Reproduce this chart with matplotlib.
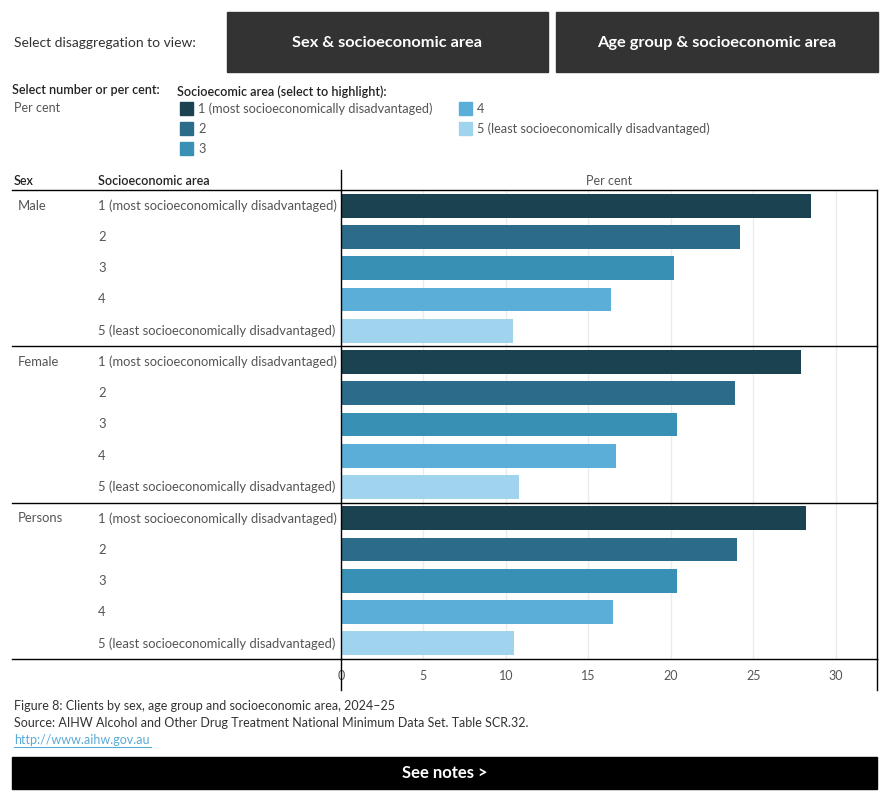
import matplotlib
matplotlib.use("Agg")
from matplotlib import pyplot as plt
from matplotlib.lines import Line2D
from matplotlib.patches import Rectangle
from matplotlib.transforms import blended_transform_factory

plt.rcParams['font.family'] = ['Lato', 'DejaVu Sans']

sexes = ["Male", "Female", "Persons"]
areas = ["1 (most socioeconomically disadvantaged)", "2", "3", "4",
         "5 (least socioeconomically disadvantaged)"]
male = [28.5, 24.2, 20.2, 16.4, 10.4]
female = [27.9, 23.9, 20.4, 16.7, 10.8]
persons = [28.2, 24.0, 20.4, 16.5, 10.5]
area_colors = ["#1a4250", "#2d6b8a", "#3891b4", "#5baed8", "#a0d4ee"]
x_ticks = [0, 5, 10, 15, 20, 25, 30]

W, H = 890, 800


def fx(px):
    return px / W


def fy(py):
    return 1 - py / H


def main():
    fig = plt.figure(figsize=(8.9, 8), dpi=100)
    grey = "#555555"
    dark = "#333333"

    # top buttons
    fig.text(fx(14), fy(43), "Select disaggregation to view:", fontsize=10,
             color=dark, va="center")
    for x0, x1, label in [(227, 548, "Sex & socioeconomic area"),
                          (556, 878, "Age group & socioeconomic area")]:
        fig.add_artist(Rectangle((fx(x0), fy(72)), fx(x1) - fx(x0), fy(12) - fy(72),
                                 transform=fig.transFigure, color="#333333"))
        fig.text(fx((x0 + x1) / 2), fy(43), label, fontsize=11.8, fontweight="bold",
                 color="white", ha="center", va="center")

    # selectors and legend
    fig.text(fx(12), fy(90), "Select number or per cent:", fontsize=9,
             fontweight=600, color="#222222", va="center")
    fig.text(fx(14), fy(108), "Per cent", fontsize=9, color=grey, va="center")
    fig.text(fx(177), fy(92), "Socioecomic area (select to highlight):", fontsize=9,
             fontweight=600, color="#222222", va="center")
    legend_pos = [(180, 109), (180, 129), (180, 149), (459, 109), (459, 129)]
    for (lx, ly), lab, c in zip(legend_pos, areas, area_colors):
        fig.add_artist(Rectangle((fx(lx), fy(ly + 6)), fx(13), 13 / H,
                                 transform=fig.transFigure, color=c))
        fig.text(fx(lx + 18), fy(ly), lab, fontsize=9.2, color=grey, va="center")

    # bar area
    ax = fig.add_axes([fx(341), fy(659), fx(877) - fx(341), fy(190) - fy(659)])
    values = male + female + persons
    colors = area_colors * 3
    ypos = [i + 0.5 for i in range(len(values))]
    ax.barh(ypos, values, height=0.76, color=colors, zorder=2)
    ax.set_ylim(len(values), 0)
    ax.set_xlim(0, 32.5)
    ax.set_xticks(x_ticks)
    ax.tick_params(axis="x", length=0, labelsize=9, labelcolor=grey, pad=8)
    ax.set_yticks([])
    ax.grid(axis="x", color="#ebebeb", linewidth=1, zorder=0)
    for s in ax.spines.values():
        s.set_color("black")
        s.set_linewidth(1)
    ax.spines["top"].set_visible(False)

    # row labels
    tr = blended_transform_factory(fig.transFigure, ax.transData)
    for g, sex in enumerate(sexes):
        fig.text(fx(18), g * 5 + 0.5, sex, transform=tr, fontsize=9.4,
                 color=grey, va="center")
        for j, a in enumerate(areas):
            fig.text(fx(98), g * 5 + j + 0.5, a, transform=tr, fontsize=9.35,
                     color=grey, va="center")
        if g > 0:
            fig.add_artist(Line2D([fx(12), fx(877)], [g * 5, g * 5], transform=tr,
                                  color="black", linewidth=1))

    # header
    fig.text(fx(14), fy(181), "Sex", fontsize=9, fontweight=600, color="#222222",
             va="center")
    fig.text(fx(98), fy(181), "Socioeconomic area", fontsize=9, fontweight=600,
             color="#222222", va="center")
    fig.text(fx(609), fy(181), "Per cent", fontsize=9, color=grey,
             ha="center", va="center")
    fig.add_artist(Line2D([fx(12), fx(877)], [fy(190), fy(190)],
                          transform=fig.transFigure, color="black", linewidth=1))
    fig.add_artist(Line2D([fx(12), fx(341)], [fy(659), fy(659)],
                          transform=fig.transFigure, color="black", linewidth=1))
    fig.add_artist(Line2D([fx(341), fx(341)], [fy(170), fy(190)],
                          transform=fig.transFigure, color="black", linewidth=1))
    fig.add_artist(Line2D([fx(341), fx(341)], [fy(659), fy(690)],
                          transform=fig.transFigure, color="black", linewidth=1))
    fig.add_artist(Line2D([fx(877), fx(877)], [fy(659), fy(690)],
                          transform=fig.transFigure, color="black", linewidth=1))

    # footer
    fig.text(fx(14), fy(706), "Figure 8: Clients by sex, age group and socioeconomic area, 2024\u201325",
             fontsize=9, color=dark, va="center")
    fig.text(fx(14), fy(723), "Source: AIHW Alcohol and Other Drug Treatment National Minimum Data Set. Table SCR.32.",
             fontsize=9, color=dark, va="center")
    fig.text(fx(14), fy(740), "http://www.aihw.gov.au", fontsize=9,
             color="#5aaad6", va="center")
    fig.add_artist(Line2D([fx(14), fx(151)], [fy(747), fy(747)],
                          transform=fig.transFigure, color="#5aaad6", linewidth=0.8))
    fig.add_artist(Rectangle((fx(12), fy(789)), fx(877) - fx(12), fy(757) - fy(789),
                             transform=fig.transFigure, color="black"))
    fig.text(fx(445), fy(773), "See notes >", fontsize=12, fontweight="bold",
             color="white", ha="center", va="center")

    fig.savefig("out.png", dpi=100)


if __name__ == '__main__':
    main()
